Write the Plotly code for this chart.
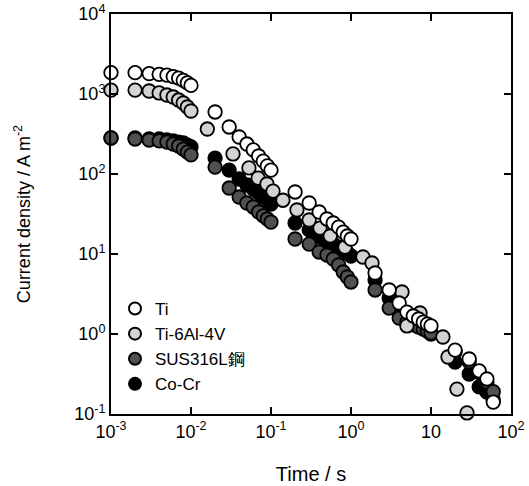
import plotly.graph_objects as go

# ---- data (time in s, current density in A m^-2) ----
ti_t = [0.001, 0.002, 0.003, 0.004, 0.005, 0.006, 0.007, 0.008, 0.009, 0.01,
        0.02, 0.03, 0.04, 0.05, 0.06, 0.07, 0.08, 0.09, 0.1,
        0.2, 0.3, 0.4, 0.5, 0.6, 0.7, 0.8, 0.9, 1.0,
        2, 3, 4, 5, 6, 7, 8, 9, 10,
        20, 30, 40, 50, 60]
ti_j = [1850, 1850, 1800, 1760, 1720, 1650, 1580, 1480, 1380, 1280,
        596, 387, 290, 237, 200, 168, 145, 126, 112,
        59.6, 43.4, 33.5, 27.4, 24.4, 21.7, 18.8, 16.8, 15.4,
        5.79, 3.55, 2.44, 1.88, 1.68, 1.54, 1.41, 1.33, 1.26,
        0.63, 0.487, 0.345, 0.274, 0.141]

tia_t = [0.001, 0.002, 0.003, 0.004, 0.005, 0.006, 0.007, 0.008, 0.009, 0.01,
         0.016, 0.0335, 0.053, 0.069, 0.089, 0.106, 0.141, 0.211, 0.30, 0.41,
         0.55, 0.84, 1.41, 1.83, 4.34, 5.0, 7.29, 14.1, 16.3, 21.1, 28.2]
tia_j = [1120, 1120, 1090, 1030, 972, 917, 841, 772, 688, 613,
         365, 178, 119, 89, 75, 61, 47, 35.5, 26.6, 21.1,
         16.8, 12.2, 9.17, 7.72, 3.35, 1.26, 1.83, 0.917, 0.516, 0.205, 0.103]

sus_t = [0.001, 0.002, 0.003, 0.004, 0.005, 0.006, 0.007, 0.008, 0.009, 0.01,
         0.02, 0.03, 0.04, 0.05, 0.06, 0.07, 0.08, 0.09, 0.1,
         0.2, 0.3, 0.4, 0.5, 0.6, 0.7, 0.8, 0.9, 1.0,
         2, 3, 4, 5, 6, 7, 8, 9, 10,
         20, 30, 40, 50, 60]
sus_j = [282, 274, 266, 259, 251, 237, 224, 205, 188, 173,
         122, 66.8, 51.6, 43.4, 38.7, 33.5, 29.9, 27.4, 25.1,
         15.4, 13.3, 10.6, 9.72, 8.66, 7.29, 5.96, 5.16, 4.47,
         3.55, 2.11, 1.58, 1.41, 1.30, 1.22, 1.15, 1.09, 1.03,
         0.6, 0.45, 0.33, 0.25, 0.19]

cocr_t = [0.001, 0.002, 0.003, 0.004, 0.005, 0.006, 0.007, 0.008, 0.009, 0.01,
          0.02, 0.03, 0.04, 0.05, 0.06, 0.07, 0.08, 0.09, 0.1,
          0.2, 0.3, 0.4, 0.5, 0.6, 0.7, 0.8, 0.9, 1.0,
          2, 3, 4, 5, 6, 7, 8, 9, 10,
          20, 30, 40, 50, 60]
cocr_j = [282, 282, 274, 274, 266, 259, 251, 244, 230, 218,
          158, 112, 86.6, 72.9, 64.9, 57.9, 51.6, 47.3, 42.2,
          24.4, 20.0, 16.3, 14.1, 13.3, 12.2, 11.2, 10.3, 9.44,
          4.73, 2.82, 2.18, 1.78, 1.50, 1.33, 1.19, 1.09, 1.0,
          0.447, 0.316, 0.218, 0.188, 0.150]

x_tickvals = [1e-3, 1e-2, 1e-1, 1, 10, 100]
x_ticktext = ["10<sup>-3</sup>", "10<sup>-2</sup>", "10<sup>-1</sup>", "10<sup>0</sup>", "10", "10<sup>2</sup>"]
y_tickvals = [1e-1, 1, 10, 100, 1000, 10000]
y_ticktext = ["10<sup>-1</sup>", "10<sup>0</sup>", "10<sup>1</sup>", "10<sup>2</sup>", "10<sup>3</sup>", "10<sup>4</sup>"]

series = [  # drawn bottom to top
    ("Co-Cr", cocr_t, cocr_j, "#000000"),
    ("SUS316L鋼", sus_t, sus_j, "#505050"),
    ("Ti-6Al-4V", tia_t, tia_j, "#d3d3d3"),
    ("Ti", ti_t, ti_j, "#ffffff"),
]

fig = go.Figure()
for name, t, j, col in series:
    fig.add_trace(go.Scatter(
        x=t, y=j, mode="markers", name=name, cliponaxis=False,
        marker=dict(size=13.5, color=col, line=dict(color="#000000", width=1.8)),
    ))

font = "Liberation Sans, Arial, sans-serif"
axis_common = dict(
    type="log", showgrid=False, zeroline=False, showline=True, automargin=False,
    linecolor="black", linewidth=2, mirror="ticks", ticks="inside",
    ticklen=7, tickwidth=2, tickcolor="black",
    tickfont=dict(family=font, size=18, color="black"),
)
fig.update_xaxes(**axis_common, range=[-3, 2], tickvals=x_tickvals, ticktext=x_ticktext,
                 title=dict(text="Time / s", font=dict(family=font, size=20, color="black"), standoff=26))
fig.update_yaxes(**axis_common, range=[-1, 4], tickvals=y_tickvals, ticktext=y_ticktext,
                 title=dict(text="Current density / A m<sup>-2</sup>", font=dict(family=font, size=18, color="black"), standoff=39))

fig.update_layout(
    width=529, height=486,
    margin=dict(l=111, r=18, t=14, b=72),
    plot_bgcolor="white", paper_bgcolor="white",
    legend=dict(x=0.01, y=0.3075, xanchor="left", yanchor="top", traceorder="reversed",
                font=dict(family=font, size=17, color="black"), bgcolor="rgba(0,0,0,0)",
                itemsizing="constant", tracegroupgap=0),
    showlegend=True,
)

# remove the default 8 px page margin so the figure sits at the window's top-left corner
fig.write_html("out.html", config={"displayModeBar": False},
               post_script="document.body.style.margin='0';")
